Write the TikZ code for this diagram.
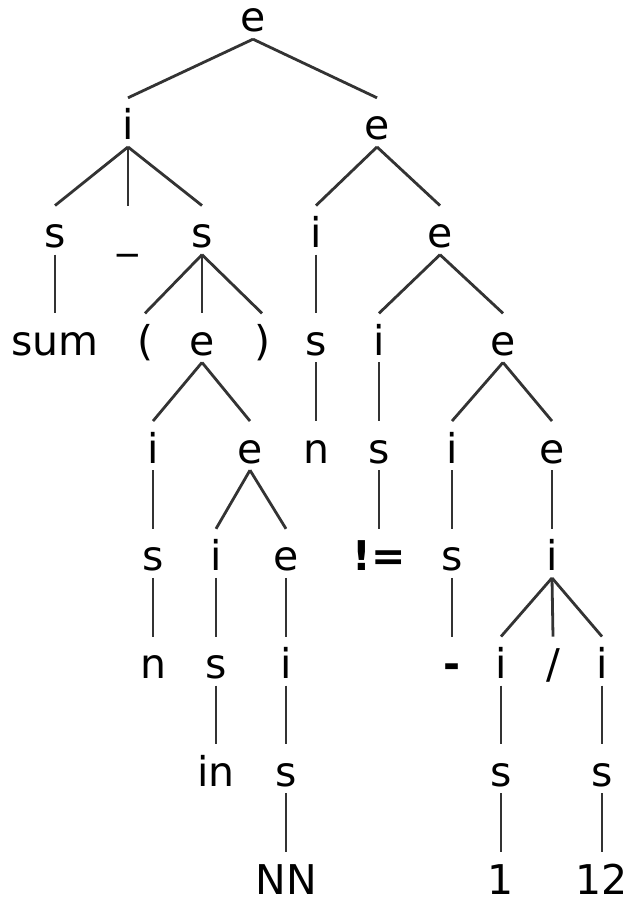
\documentclass[tikz,border=0pt]{standalone}
\usepackage{fontspec}
\setmainfont{DejaVu Sans}
\begin{document}
\begin{tikzpicture}[x=1pt,y=-1pt]
            \tikzset{
                sym/.style={anchor=base,inner sep=0pt,text height=41.75pt,text depth=7pt,font=\fontsize{41}{49}\selectfont},
                op/.style={sym,font=\fontsize{41}{49}\selectfont\bfseries},
                branch/.style={draw=black!80,line width=2.8pt}}
            \useasboundingbox (0,0) rectangle (624,899);
            % rows of the tree
            \node[sym] (e0) at (253,32) {e};
            \node[sym] (i1) at (128,139.75) {i};
            \node[sym] (e1) at (377,139.75) {e};
            \node[sym] (s2) at (55,247.5) {s};
            \node[sym] (u2) at (128,247.5) {\_};
            \node[sym] (s2b) at (202,247.5) {s};
            \node[sym] (i2) at (316,247.5) {i};
            \node[sym] (e2) at (440,247.5) {e};
            \node[sym] (sum3) at (55,355.25) {sum};
            \node[sym] (lp3) at (145,355.25) {(};
            \node[sym] (e3) at (202,355.25) {e};
            \node[sym] (rp3) at (262,355.25) {)};
            \node[sym] (s3) at (316,355.25) {s};
            \node[sym] (i3) at (379,355.25) {i};
            \node[sym] (e3b) at (503,355.25) {e};
            \node[sym] (i4) at (153,463) {i};
            \node[sym] (e4) at (250,463) {e};
            \node[sym] (n4) at (316,463) {n};
            \node[sym] (s4) at (379,463) {s};
            \node[sym] (i4b) at (452,463) {i};
            \node[sym] (e4b) at (552,463) {e};
            \node[sym] (s5) at (153,570.75) {s};
            \node[sym] (i5) at (216,570.75) {i};
            \node[sym] (e5) at (286,570.75) {e};
            \node[op] (ne5) at (379,570.75) {!=};
            \node[sym] (s5b) at (452,570.75) {s};
            \node[sym] (i5b) at (552,570.75) {i};
            \node[sym] (n6) at (153,678.5) {n};
            \node[sym] (s6) at (216,678.5) {s};
            \node[sym] (i6) at (286,678.5) {i};
            \node[op] (m6) at (452,678.5) {-};
            \node[sym] (i6b) at (501,678.5) {i};
            \node[sym] (sl6) at (553,678.5) {/};
            \node[sym] (i6c) at (602,678.5) {i};
            \node[sym] (in7) at (216,786.25) {in};
            \node[sym] (s7) at (286,786.25) {s};
            \node[sym] (s7b) at (501,786.25) {s};
            \node[sym] (s7c) at (602,786.25) {s};
            \node[sym] (nn8) at (286,894) {NN};
            \node[sym] (one8) at (501,894) {1};
            \node[sym] (tw8) at (602,894) {12};
            % branches
            \foreach \a/\b in {e0/i1,e0/e1,i1/s2,i1/u2,i1/s2b,e1/i2,e1/e2,
                s2/sum3,s2b/lp3,s2b/e3,s2b/rp3,i2/s3,e2/i3,e2/e3b,
                e3/i4,e3/e4,s3/n4,i3/s4,e3b/i4b,e3b/e4b,
                i4/s5,e4/i5,e4/e5,s4/ne5,i4b/s5b,e4b/i5b,
                s5/n6,i5/s6,e5/i6,s5b/m6,i5b/i6b,i5b/sl6,i5b/i6c,
                s6/in7,i6/s7,i6b/s7b,i6c/s7c,s7/nn8,s7b/one8,s7c/tw8}
                \draw[branch] (\a.south) -- (\b.north);
        \end{tikzpicture}
\end{document}
